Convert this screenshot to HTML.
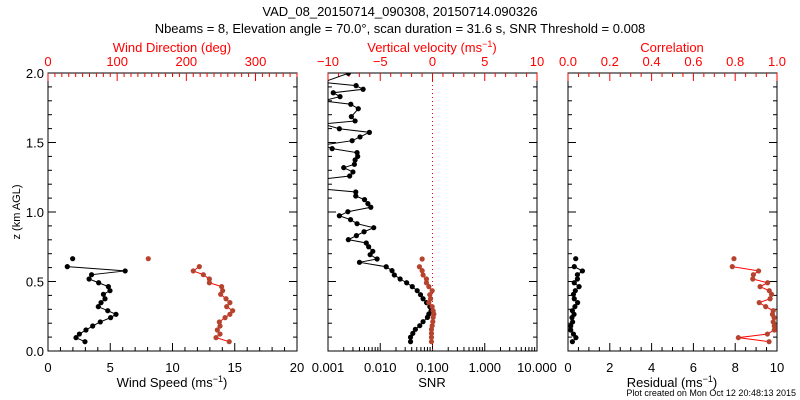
<!DOCTYPE html>
<html><head><meta charset="utf-8"><style>
body{margin:0;background:#fff}
svg{display:block}
text{font-family:"Liberation Sans",sans-serif}
</style></head><body>
<svg id="c" width="800" height="400" xmlns="http://www.w3.org/2000/svg">
<text x="400" y="16" text-anchor="middle" font-size="13">VAD_08_20150714_090308, 20150714.090326</text>
<text x="400" y="33" text-anchor="middle" font-size="13">Nbeams = 8, Elevation angle = 70.0°, scan duration = 31.6 s, SNR Threshold = 0.008</text>
<text x="796" y="396" text-anchor="end" font-size="9">Plot created on Mon Oct 12 20:48:13 2015</text>
</svg>
<script>
// Left panel data
const hLeft=[0.664,0.607,0.576,0.549,0.518,0.491,0.463,0.434,0.408,0.376,0.348,0.319,0.290,0.264,0.240,0.209,0.180,0.151,0.122,0.096,0.067];
const windSpeed=[1.98,1.55,6.2,3.5,3.3,4.07,4.85,4.98,4.45,4.58,4.26,4.04,4.8,5.46,5.03,4.2,3.59,3.05,2.52,2.25,2.97];
const windDir=[145,218.8,210,224.6,233.3,233.3,251,252.5,249.6,257.4,263,258.3,267,263,256,247.7,248.7,244.8,248.7,242.9,262];
// Middle panel data
const hSnr=[1.998,1.933,1.909,1.883,1.858,1.830,1.799,1.775,1.743,1.686,1.655,1.633,1.599,1.573,1.540,1.513,1.482,1.456,1.427,1.400,1.374,1.343,1.319,1.288,1.259,1.237,1.165,1.144,1.115,1.089,1.060,1.034,1.002,0.973,0.945,0.916,0.887,0.858,0.830,0.801,0.777,0.750,0.717,0.693,0.662,0.638,0.606,0.578,0.547,0.518,0.491,0.463,0.434,0.405,0.376,0.348,0.319,0.290,0.266,0.242,0.211,0.182,0.156,0.127,0.099,0.067];
const snr=[0.00245,0.0008,0.00345,0.0047,0.00126,0.0017,0.0008,0.00273,0.0038,0.0028,0.0033,0.0008,0.00165,0.0062,0.0041,0.0029,0.0008,0.0012,0.0036,0.0037,0.0033,0.0032,0.002,0.003,0.0026,0.0008,0.0008,0.0034,0.0034,0.005,0.0058,0.0066,0.0024,0.00165,0.0027,0.0036,0.0075,0.0049,0.0035,0.00245,0.0054,0.006,0.0072,0.0064,0.0087,0.004,0.013,0.0168,0.0186,0.024,0.032,0.041,0.051,0.059,0.066,0.077,0.089,0.094,0.085,0.08,0.066,0.057,0.047,0.042,0.038,0.038];
const hW=[0.662,0.606,0.578,0.547,0.518,0.491,0.463,0.434,0.405,0.376,0.348,0.319,0.290,0.266,0.242,0.211,0.182,0.156,0.127,0.099,0.067];
const wVel=[-0.99,-1.25,-0.99,-0.9,-0.58,-0.58,-0.35,-0.03,-0.26,-0.19,-0.35,-0.03,0.06,0.13,0.06,0.03,-0.03,-0.1,-0.1,-0.1,-0.1];
// Right panel data
const residual=[0.37,0.30,0.69,0.45,0.45,0.30,0.53,0.35,0.26,0.30,0.46,0.33,0.21,0.29,0.19,0.22,0.13,0.13,0.26,0.38,0.21];
const corr=[0.794,0.786,0.912,0.887,0.884,0.955,0.919,0.963,0.974,0.967,0.915,0.946,0.982,0.978,0.986,0.982,0.987,0.987,0.954,0.815,0.962];
const yTicks=["0.0","0.5","1.0","1.5","2.0"];

const svg=document.getElementById('c');
const NS='http://www.w3.org/2000/svg';
const RED='#ff0000', BROWN='#b5432e';
const Y0=351, Y1=73;
const yS=h=>Y0-(h/2)*(Y0-Y1);
function mk(t,a,p){const e=document.createElementNS(NS,t);for(const k in a)e.setAttribute(k,a[k]);(p||svg).appendChild(e);return e;}
function txt(x,y,s,col,anchor,size,p){const e=mk('text',{x:x,y:y,'text-anchor':anchor||'middle','font-size':size||13,fill:col||'#000'},p);e.textContent=s;return e;}

const panels=[{id:'wind',x0:48,x1:297},{id:'snr',x0:328,x1:537},{id:'resid',x0:568,x1:777}];
panels.forEach((P,i)=>{
  const g=mk('g',{});
  
  
  P.g=g;
  const cp=mk('clipPath',{id:'cp'+i},g);
  mk('rect',{x:P.x0,y:Y1,width:P.x1-P.x0,height:Y0-Y1},cp);
  const fr=mk('rect',{x:P.x0,y:Y1,width:P.x1-P.x0,height:Y0-Y1,fill:'none',stroke:'#000','stroke-width':1},g);
  
  
  for(let k=0;k<=20;k++){const y=yS(k*0.1),L=k%5==0?8:4;
    mk('line',{x1:P.x0,y1:y,x2:P.x0+L,y2:y,stroke:'#000'},g);
    mk('line',{x1:P.x1,y1:y,x2:P.x1-L,y2:y,stroke:'#000'},g);}
});
yTicks.forEach((s,k)=>{const t=txt(44,yS(k*0.5)+5,s,'#000','end',13);
  
  });
const yt=txt(0,0,'z (km AGL)','#000','middle',11);
yt.setAttribute('transform','translate(20,212) rotate(-90)');



function linAxis(P,lo,hi,major,minor,top,col,fmt){
  const sc=v=>P.x0+(v-lo)/(hi-lo)*(P.x1-P.x0);
  const n=Math.round((hi-lo)/minor);
  for(let k=0;k<=n;k++){const v=lo+k*minor;const isM=Math.abs(Math.round((v-lo)/major)*major-(v-lo))<1e-6;
    const L=isM?8:4,x=sc(v),y=top?Y1:Y0;
    mk('line',{x1:x,y1:y,x2:x,y2:top?y+L:y-L,stroke:col},P.g);
    if(isM){const t=txt(x,top?66:372,fmt(v),col,'middle',13,P.g);
      
      }}
  return sc;
}
function series(P,i,xs,hs,col,lineCol,skipFirst,name){
  const g=mk('g',{'clip-path':'url(#cp'+i+')'},P.g);
  
  
  const pts=xs.map((x,k)=>[x,yS(hs[k])]);
  const lp=skipFirst?pts.slice(1):pts;
  mk('polyline',{points:lp.map(p=>p.join(',')).join(' '),fill:'none',stroke:lineCol,'stroke-width':1},g);
  pts.forEach(p=>{const c=mk('circle',{cx:p[0],cy:p[1],r:2.6,fill:col},g);
    
    });
}
const f0=v=>String(Math.round(v));
// Left
const P0=panels[0];
const sSp=linAxis(P0,0,20,5,1,false,'#000',f0);
const sDir=linAxis(P0,0,360,100,10,true,RED,f0);
series(P0,0,windSpeed.map(sSp),hLeft,'#000','#000',true,'wind-speed-series');
series(P0,0,windDir.map(sDir),hLeft,BROWN,RED,true,'wind-direction-series');
// Middle
const P1=panels[1];
const sW=linAxis(P1,-10,10,5,1,true,RED,v=>v<0?'\u2212'+Math.abs(v):String(v));
const lsc=v=>P1.x0+(Math.log10(v)+3)/4*(P1.x1-P1.x0);
['0.001','0.010','0.100','1.000','10.000'].forEach((s,k)=>{
  const v=Math.pow(10,k-3),x=lsc(v);
  mk('line',{x1:x,y1:Y0,x2:x,y2:Y0-8,stroke:'#000'},P1.g);
  const t=txt(x,372,s,'#000','middle',13,P1.g);
  
  
  if(k<4)for(let m=2;m<10;m++){const xm=lsc(v*m);mk('line',{x1:xm,y1:Y0,x2:xm,y2:Y0-4,stroke:'#000'},P1.g);}
});
const zl=mk('line',{x1:sW(0),y1:Y1,x2:sW(0),y2:Y0,stroke:RED,'stroke-dasharray':'1,3'},P1.g);


series(P1,1,snr.map(lsc),hSnr,'#000','#000',false,'snr-series');
series(P1,1,wVel.map(sW),hW,BROWN,RED,true,'vertical-velocity-series');
// Right
const P2=panels[2];
const sR=linAxis(P2,0,10,2,0.5,false,'#000',f0);
const sC=linAxis(P2,0,1,0.2,0.05,true,RED,v=>v.toFixed(1));
series(P2,2,residual.map(sR),hLeft,'#000','#000',true,'residual-series');
series(P2,2,corr.map(sC),hLeft,BROWN,RED,true,'correlation-series');
// Axis titles
function title(x,y,html,col,name){const t=mk('text',{x:x,y:y,'text-anchor':'middle','font-size':13,fill:col});t.innerHTML=html;
  }
title(172,387,'Wind Speed (ms<tspan dy="-5" font-size="9">\u22121</tspan><tspan dy="5">)</tspan>','#000','wind-speed-axis-title');
title(172,52,'Wind Direction (deg)',RED,'wind-direction-axis-title');
title(432,387,'SNR','#000','snr-axis-title');
title(432,52,'Vertical velocity (ms<tspan dy="-5" font-size="9">\u22121</tspan><tspan dy="5">)</tspan>',RED,'vertical-velocity-axis-title');
title(672,387,'Residual (ms<tspan dy="-5" font-size="9">\u22121</tspan><tspan dy="5">)</tspan>','#000','residual-axis-title');
title(672,52,'Correlation',RED,'correlation-axis-title');
</script>
</body></html>
